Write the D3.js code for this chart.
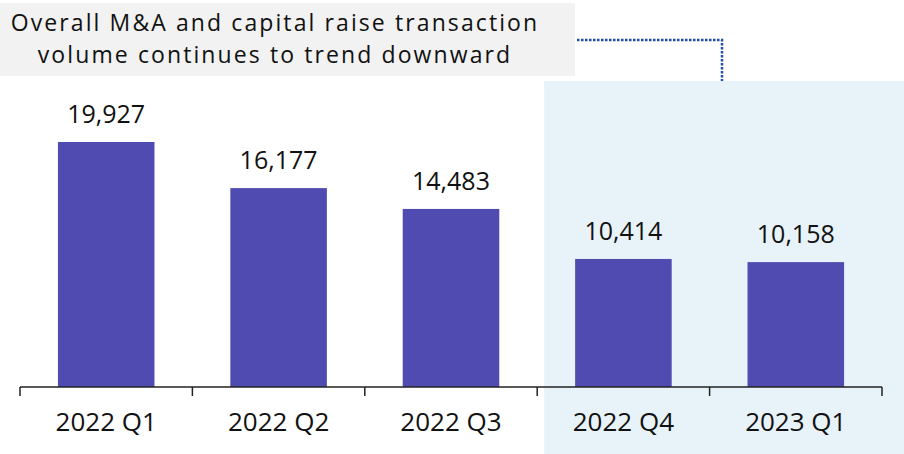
<!DOCTYPE html>
<html>
<head>
<meta charset="utf-8">
<script src="https://cdn.jsdelivr.net/npm/d3@7"></script>
<style>
  body { margin: 0; background: #fff; }
  svg { display: block; font-family: "Open Sans", sans-serif; }
</style>
</head>
<body>
<div id="chart"></div>
<script>
var quarters = ["2022 Q1", "2022 Q2", "2022 Q3", "2022 Q4", "2023 Q1"];
var volumes = [19927, 16177, 14483, 10414, 10158];
var highlighted = ["2022 Q4", "2023 Q1"];
var titleLines = ["Overall M&A and capital raise transaction", "volume continues to trend downward"];

var width = 904, height = 454;

var svg = d3.select("#chart")
    .append("svg")
    .attr("width", width)
    .attr("height", height);

var x = d3.scaleBand()
    .domain(quarters)
    .range([20, 882])
    .paddingInner(0.44)
    .paddingOuter(0.22);

var y = d3.scaleLinear()
    .domain([0, d3.max(volumes)])
    .range([387, 142]);

// highlight panel behind the last two quarters
var hlStart = x(highlighted[0]) - x.step() * x.paddingInner() / 2;
svg.append("rect")
    .attr("x", hlStart + 7)
    .attr("y", 81)
    .attr("width", width - hlStart - 7)
    .attr("height", height - 81)
    .attr("fill", "#e8f2f9");

// title box
svg.append("rect")
    .attr("x", 0)
    .attr("y", 3)
    .attr("width", 575)
    .attr("height", 73)
    .attr("fill", "#f2f2f2");

svg.selectAll(".title")
    .data(titleLines)
    .enter()
    .append("text")
    .attr("x", 275)
    .attr("y", function(d, i) { return 31 + i * 32; })
    .attr("text-anchor", "middle")
    .attr("font-size", 23)
    .attr("letter-spacing", 2.1)
    .attr("fill", "#111")
    .text(function(d) { return d; });

// dotted connector from the title to the highlight panel
svg.append("path")
    .attr("d", "M577,40H722V81")
    .attr("fill", "none")
    .attr("stroke", "#1f4ea6")
    .attr("stroke-width", 2.5)
    .attr("stroke-dasharray", "2.5,1.5");

var data = quarters.map(function(q, i) { return { q: q, v: volumes[i] }; });

svg.selectAll(".bar")
    .data(data)
    .enter()
    .append("rect")
    .attr("x", d => x(d.q))
    .attr("y", d => y(d.v))
    .attr("width", x.bandwidth())
    .attr("height", d => y(0) - y(d.v))
    .attr("fill", "#4f4bb0");

svg.selectAll(".label")
    .data(data)
    .enter()
    .append("text")
    .attr("x", d => x(d.q) + x.bandwidth() / 2)
    .attr("y", d => y(d.v) - 19)
    .attr("text-anchor", "middle")
    .attr("font-size", 25)
    .attr("fill", "#111")
    .text(d => d3.format(",")(d.v));

// category axis with tick marks between the bands
var axis = svg.append("g");
axis.append("line")
    .attr("x1", 20).attr("x2", 882)
    .attr("y1", 387).attr("y2", 387)
    .attr("stroke", "#222")
    .attr("stroke-width", 1.5);

var edges = quarters.map(q => x(q) - x.step() * x.paddingInner() / 2);
edges.push(882);
edges[0] = 20;
axis.selectAll(".tick")
    .data(edges)
    .enter()
    .append("line")
    .attr("x1", d => d).attr("x2", d => d)
    .attr("y1", 387).attr("y2", 396)
    .attr("stroke", "#222")
    .attr("stroke-width", 1.5);

axis.selectAll(".cat")
    .data(quarters)
    .enter()
    .append("text")
    .attr("x", d => x(d) + x.bandwidth() / 2)
    .attr("y", 431)
    .attr("text-anchor", "middle")
    .attr("font-size", 26)
    .attr("fill", "#111")
    .text(d => d);
</script>
</body>
</html>
